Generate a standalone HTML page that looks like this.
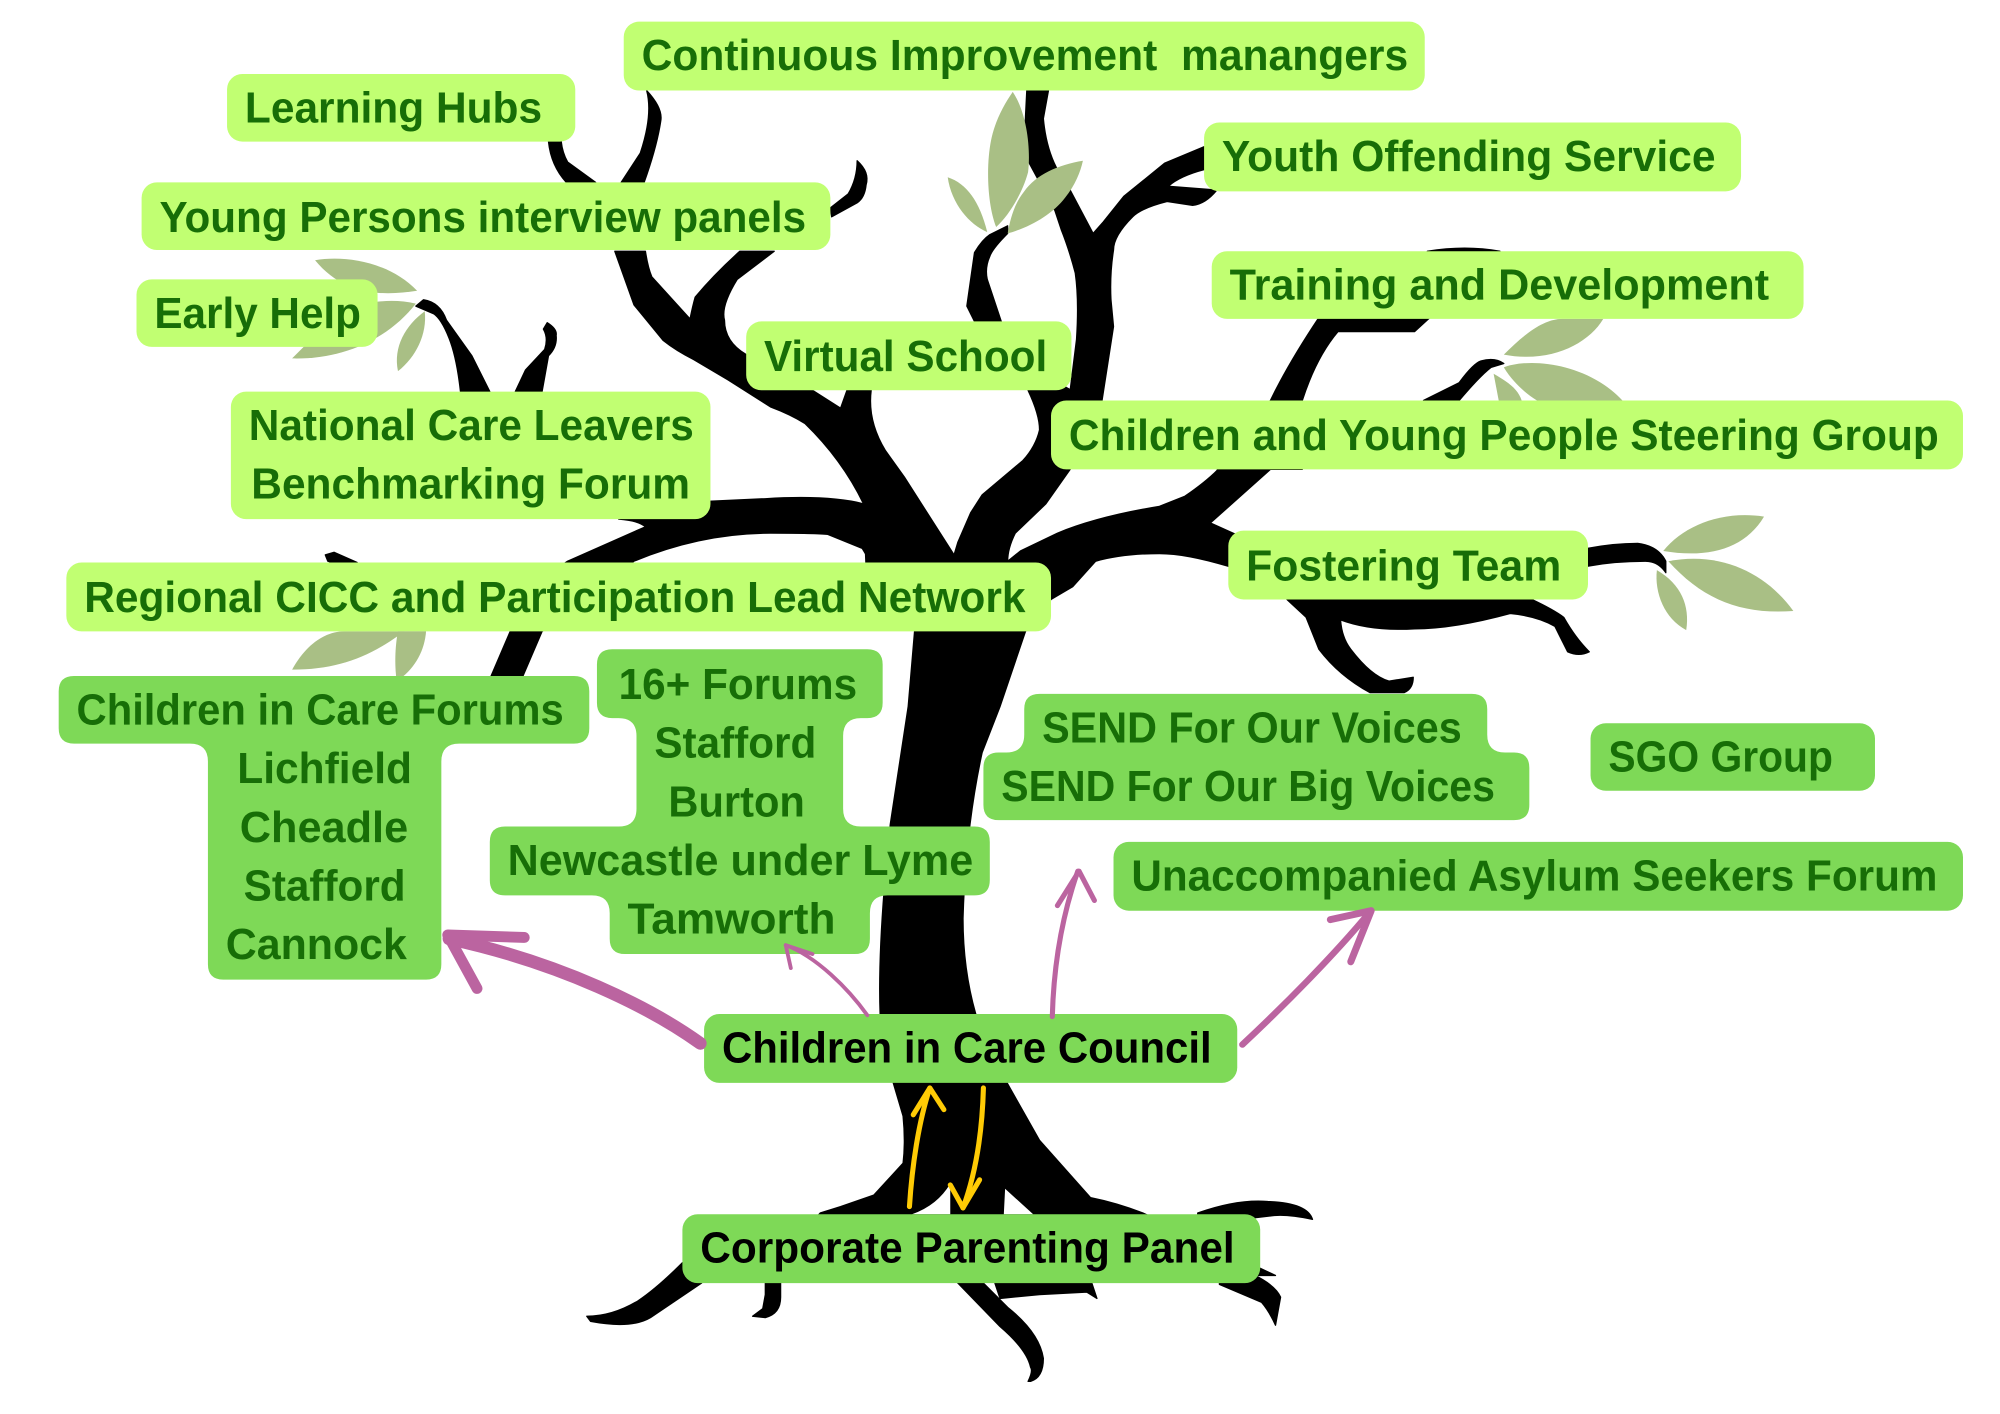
<!DOCTYPE html>
<html>
<head>
<meta charset="utf-8">
<style>
html,body{margin:0;padding:0;background:#fff}
svg{display:block}
text{font-family:"Liberation Sans",sans-serif;font-weight:700;font-size:34px;fill:#176e07}
text.k{fill:#000}
</style>
</head>
<body>
<svg xmlns="http://www.w3.org/2000/svg" width="2000" height="1414" viewBox="0 0 1568 1108.6">
<rect width="1568" height="1108.6" fill="#fff"/>
<g fill="#000" stroke="#000" stroke-width="1" stroke-linejoin="round">
<!-- trunk -->
<path d="M717,495 L712,554 L698,646 Q688,740 690,795 Q695,830 700,848 L708,875 Q710,895 708,912 L685,937 L659,946 L643,951 L600,1000 L1000,1000 L896,951 Q875,943 855,939 L815,894 L789,848 L765,795 Q755,760 755,720 Q757,650 770,590 L784,554 L804,495 Z"/>
<!-- upper-left limb and fork -->
<path d="M482,197 L506,197 Q508,210 511,217 L541,250 Q543,240 545,233 Q560,215 580,197 L607,197 L578,219 Q565,240 568,251 Q568,268 585,278 L637,306 L659,320 L664,306 L683,306 Q680,330 694,353 L709,374 L748,435 L770,470 L680,470 L677,395 Q660,360 631,332 Q620,325 604,319 L571,298 L544,282 Q530,275 520,267 L497,239 Z"/>
<!-- west limb -->
<path d="M677,395 Q650,388 600,391 L556,393 L520,405 L485,407 Q500,408 506,413 L445,440 L400,470 L400,495 L385,530 L410,530 L425,495 L470,465 L497,440 Q550,418 604,418 Q640,418 649,419 L676,430 L685,445 L700,445 Z"/>
<path d="M255,435 L262,433 L280,441 L270,445 L257,440 Z"/>
<!-- junction and right limb -->
<path d="M748,435 L751,425 L761,402 L770,388 L802,361 Q812,350 815,337 Q815,325 806,306 L811,290 L840,306 L839,368 L820,395 L796,418 Q790,430 790,440 L800,432 L829,418 Q860,405 909,397 L929,389 Q945,378 954,369 L970,345 L996,368 L949,410 L969,419 L963,444 Q930,434 909,434 Q880,434 859,440 L841,460 L824,470 L804,495 L720,495 L685,442 Z"/>
<!-- early help branches -->
<path d="M332,235 Q345,237 350,251 L370,279 L384,307 L361,307 Q358,280 352,265 Q346,250 340,246 L326,240 Z"/>
<path d="M429,253 Q437,258 436,263 Q437,272 430,279 L425,307 L404,307 L412,290 L427,274 Q430,265 426,258 Z"/>
<!-- upper twigs -->
<path d="M507,71 Q520,85 518,95 Q515,115 505,143 L487,143 L502,120 Q512,90 507,71 Z"/>
<path d="M430,111 L440,111 Q441,120 445,127 L467,143 L444,143 Q432,130 430,111 Z"/>
<path d="M672,126 Q682,135 679,145 Q678,155 672,159 L652,170 L651,163 L665,152 Q672,140 672,126 Z"/>
<!-- central limb -->
<path d="M805,71 L822,71 L818,93 Q820,115 828,131 L839,149 L857,183 L865,174 L881,154 L913,128 L944,115 L944,133 Q925,138 916,146 L954,149 Q945,160 935,161 L915,158 Q895,163 888,170 Q873,185 873,196 Q870,215 871,235 L873,256 L864,314 L838,314 L844,266 Q846,235 843,214 Q838,195 832,180 L827,165 L814,141 L807,128 Q803,110 804,91 Z"/>
<path d="M790,177 L790,183 Q778,195 776,201 Q772,210 774,219 L785,252 L764,252 L758,240 L764,198 Q770,188 776,184 Z"/>
<!-- right upper -->
<path d="M996,314 L1021,314 Q1032,280 1049,260 L1109,260 L1121,249 L1034,249 Q1010,285 996,314 Z"/>
<path d="M996,314 L1021,314 L1021,368 L996,368 Z"/>
<path d="M1119,197 Q1149,192 1176,197 Z"/>
<path d="M1116,314 L1144,300 Q1155,285 1161,283 Q1172,280 1179,285 L1169,288 Q1160,295 1144,314 Z"/>
<path d="M1244,430 Q1265,426 1284,426 Q1300,428 1306,440 L1306,449 Q1300,440 1290,440 Q1265,440 1244,444 Z"/>
<path d="M1009,470 L1201,470 Q1218,478 1226,484 Q1235,500 1246,511 Q1238,515 1229,511 L1219,491 Q1205,483 1184,481 Q1140,493 1109,493 Q1075,495 1051,486 Q1052,500 1059,509 Q1075,530 1089,534 L1108,531 Q1108,540 1101,543 L1074,543 Q1050,530 1034,509 L1024,484 Z"/>
<!-- roots -->
<path d="M939,951 Q970,940 994,942 Q1025,943 1029,956 Q1010,952 999,953 L939,960 Z"/>
<path d="M956,1004 L984,1000 Q1000,1008 1004,1017 L1000,1039 Q995,1028 989,1021 L956,1007 Z"/>
<path d="M780,1006 L856,1006 L860,1018 L852,1013 L815,1015 L784,1018 Z"/>
<path d="M750,1005 L770,1005 L790,1025 Q815,1045 818,1065 Q818,1080 808,1083 L806,1083 Q810,1075 808,1072 Q805,1058 784,1040 Z"/>
<path d="M535,990 Q515,1010 500,1020 Q480,1032 460,1032 L463,1036 Q495,1042 510,1033 L550,1006 L560,990 Z"/>
<path d="M600,1005 L612,1005 L612,1017 Q612,1030 600,1033 L590,1032 L598,1026 L600,1015 Z"/>
</g>
<path d="M715,952 Q735,945 745,928 L745,952 Z M788,932 L787,952 L810,952 Z" fill="#fff"/>

<!-- leaves -->
<g fill="#a9bf85">
<path d="M794,72 C806,90 808,120 806,135 C802,150 792,168 781,178 C774,160 773,130 777,110 C780,95 787,82 794,72Z"/>
<path d="M849,126 C830,129 812,137 803,150 C795,160 792,172 790,183 C808,178 825,168 835,155 C843,145 847,135 849,126Z"/>
<path d="M743,139 C758,144 768,158 774,182 C760,176 746,160 743,139Z"/>
<path d="M247,204 C270,200 305,205 327,228 C300,232 270,232 247,204Z"/>
<path d="M326,238 C300,232 270,240 260,250 L240,270 L229,281 C270,282 305,265 326,238Z"/>
<path d="M333,244 C318,255 308,272 312,291 C326,280 335,262 333,244Z"/>
<path d="M229,525 C240,505 255,495 270,495 L317,495 C290,515 265,525 229,525Z"/>
<path d="M1179,278 C1195,262 1210,250 1225,250 L1257,250 C1245,270 1215,285 1179,278Z"/>
<path d="M1179,288 C1200,280 1245,285 1272,314 L1205,314 C1195,308 1185,298 1179,288Z"/>
<path d="M1171,293 C1183,300 1190,305 1193,314 L1175,314 Z"/>
<path d="M1383,405 C1350,400 1320,412 1304,432 C1340,438 1368,430 1383,405Z"/>
<path d="M1308,440 C1350,432 1385,450 1406,479 C1365,482 1335,470 1308,440Z"/>
<path d="M1299,447 C1318,458 1325,475 1322,494 C1305,485 1297,465 1299,447Z"/>
</g>

<!-- light boxes -->
<g fill="#c1ff72">
<rect x="489" y="17" width="628" height="54" rx="12"/>
<rect x="178" y="58" width="273" height="53" rx="12"/>
<rect x="111" y="143" width="540" height="53" rx="12"/>
<rect x="107" y="219" width="189" height="53" rx="12"/>
<rect x="181" y="307" width="376" height="100" rx="12"/>
<rect x="585" y="252" width="255" height="54" rx="12"/>
<rect x="944" y="96" width="421" height="54" rx="12"/>
<rect x="950" y="197" width="464" height="53" rx="12"/>
<rect x="824" y="314" width="715" height="54" rx="12"/>
<rect x="963" y="416" width="282" height="54" rx="12"/>
<rect x="52" y="441" width="772" height="54" rx="12"/>
</g>
<path d="M312,495 L334,495 C333,510 325,525 311,534 C309,520 310,505 312,495Z" fill="#a9bf85"/>

<!-- medium boxes -->
<g fill="#7ed957">
<path d="M58,530 H450 Q462,530 462,542 V571 Q462,583 450,583 H360 Q346,583 346,597 V756 Q346,768 334,768 H175 Q163,768 163,756 V597 Q163,583 149,583 H58 Q46,583 46,571 V542 Q46,530 58,530Z"/>
<path d="M480,509 H680 Q692,509 692,521 V551 Q692,563 680,563 H675 Q661,563 661,577 V634 Q661,648 675,648 H764 Q776,648 776,660 V690 Q776,702 764,702 H696 Q682,702 682,716 V736 Q682,748 670,748 H490 Q478,748 478,736 V716 Q478,702 464,702 H396 Q384,702 384,690 V660 Q384,648 396,648 H485 Q499,648 499,634 V577 Q499,563 485,563 H480 Q468,563 468,551 V521 Q468,509 480,509Z"/>
<path d="M815,544 H1154 Q1166,544 1166,556 V576 Q1166,590 1180,590 H1187 Q1199,590 1199,602 V631 Q1199,643 1187,643 H783 Q771,643 771,631 V602 Q771,590 783,590 H789 Q803,590 803,576 V556 Q803,544 815,544Z"/>
<rect x="1247" y="567" width="223" height="53" rx="12"/>
<rect x="873" y="660" width="666" height="54" rx="12"/>
<rect x="552" y="795" width="418" height="54" rx="12"/>
<rect x="535" y="952" width="453" height="54" rx="12"/>
</g>

<!-- labels -->
<g>
<text x="503" y="55" textLength="601" lengthAdjust="spacingAndGlyphs" xml:space="preserve">Continuous Improvement  manangers</text>
<text x="192" y="96" textLength="233" lengthAdjust="spacingAndGlyphs">Learning Hubs</text>
<text x="125" y="182" textLength="507" lengthAdjust="spacingAndGlyphs">Young Persons interview panels</text>
<text x="121" y="257" textLength="162" lengthAdjust="spacingAndGlyphs">Early Help</text>
<text x="195" y="345" textLength="349" lengthAdjust="spacingAndGlyphs">National Care Leavers</text>
<text x="197" y="391" textLength="344" lengthAdjust="spacingAndGlyphs">Benchmarking Forum</text>
<text x="599" y="291" textLength="222" lengthAdjust="spacingAndGlyphs">Virtual School</text>
<text x="958" y="134" textLength="387" lengthAdjust="spacingAndGlyphs">Youth Offending Service</text>
<text x="964" y="235" textLength="423" lengthAdjust="spacingAndGlyphs">Training and Development</text>
<text x="838" y="353" textLength="682" lengthAdjust="spacingAndGlyphs">Children and Young People Steering Group</text>
<text x="977" y="455" textLength="247" lengthAdjust="spacingAndGlyphs">Fostering Team</text>
<text x="66" y="480" textLength="738" lengthAdjust="spacingAndGlyphs">Regional CICC and Participation Lead Network</text>
<text x="60" y="568" textLength="382" lengthAdjust="spacingAndGlyphs">Children in Care Forums</text>
<text x="186" y="614" textLength="137" lengthAdjust="spacingAndGlyphs">Lichfield</text>
<text x="188" y="660" textLength="132" lengthAdjust="spacingAndGlyphs">Cheadle</text>
<text x="191" y="706" textLength="127" lengthAdjust="spacingAndGlyphs">Stafford</text>
<text x="177" y="752" textLength="142" lengthAdjust="spacingAndGlyphs">Cannock</text>
<text x="485" y="548" textLength="187" lengthAdjust="spacingAndGlyphs">16+ Forums</text>
<text x="513" y="594" textLength="127" lengthAdjust="spacingAndGlyphs">Stafford</text>
<text x="524" y="640" textLength="107" lengthAdjust="spacingAndGlyphs">Burton</text>
<text x="398" y="686" textLength="365" lengthAdjust="spacingAndGlyphs">Newcastle under Lyme</text>
<text x="492" y="732" textLength="163" lengthAdjust="spacingAndGlyphs">Tamworth</text>
<text x="817" y="582" textLength="329" lengthAdjust="spacingAndGlyphs">SEND For Our Voices</text>
<text x="785" y="628" textLength="387" lengthAdjust="spacingAndGlyphs">SEND For Our Big Voices</text>
<text x="1261" y="605" textLength="176" lengthAdjust="spacingAndGlyphs">SGO Group</text>
<text x="887" y="698" textLength="632" lengthAdjust="spacingAndGlyphs">Unaccompanied Asylum Seekers Forum</text>
<text class="k" x="566" y="833" textLength="384" lengthAdjust="spacingAndGlyphs">Children in Care Council</text>
<text class="k" x="549" y="990" textLength="419" lengthAdjust="spacingAndGlyphs">Corporate Parenting Panel</text>
</g>

<!-- arrows -->
<g fill="none" stroke="#bb64a0" stroke-linecap="round" stroke-linejoin="round">
<path d="M549,818 C510,790 440,755 352,736" stroke-width="10"/>
<path d="M411,735 L351,733 L374,775" stroke-width="8.5"/>
<path d="M680,796 C665,775 640,750 616,741" stroke-width="3"/>
<path d="M637,748 L616,741 L620,759" stroke-width="3"/>
<path d="M825,797 C826,760 832,720 845,683" stroke-width="4"/>
<path d="M829,710 L846,683 L858,706" stroke-width="4"/>
<path d="M974,819 C1005,790 1045,750 1074,715" stroke-width="5"/>
<path d="M1043,721 L1075,714 L1059,754" stroke-width="5.5"/>
</g>
<g fill="none" stroke="#ffcb05" stroke-width="4" stroke-linecap="round" stroke-linejoin="round">
<path d="M713,946 C715,915 720,880 729,853"/>
<path d="M716,874 L729,853 L740,870"/>
<path d="M771,853 C770,890 765,920 755,947"/>
<path d="M745,929 L755,947 L768,925"/>
</g>
</svg>
</body>
</html>
